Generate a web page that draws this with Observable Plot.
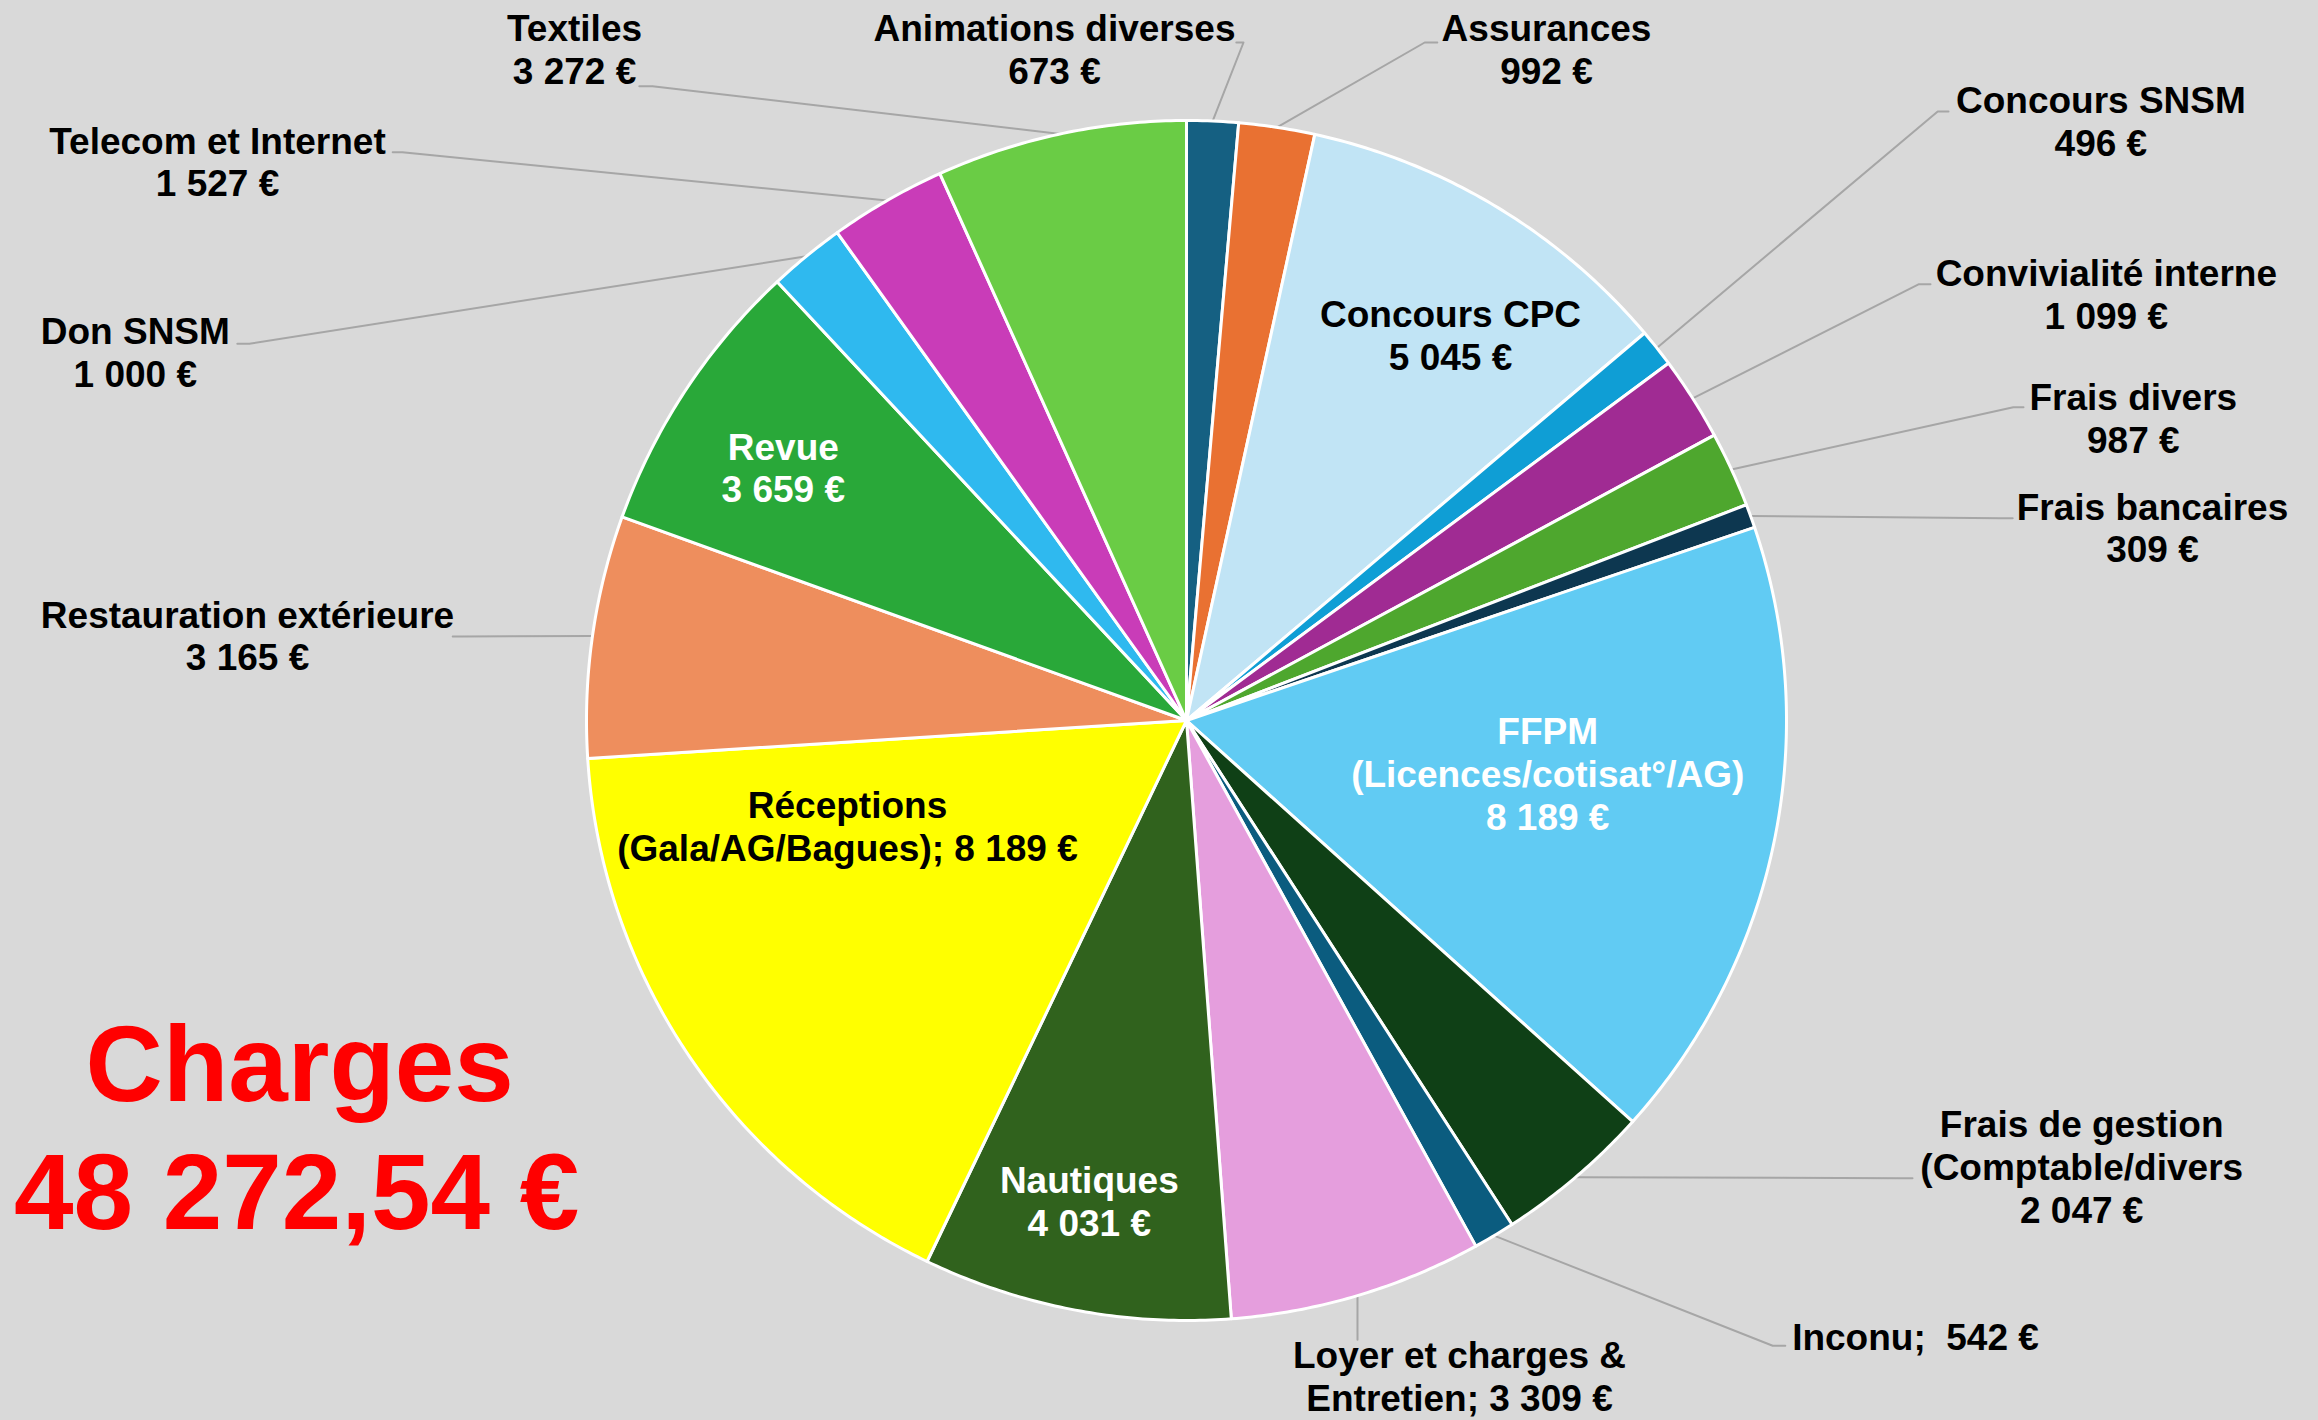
<!DOCTYPE html>
<html><head><meta charset="utf-8">
<script src="https://cdn.jsdelivr.net/npm/d3@7"></script>
<script src="https://cdn.jsdelivr.net/npm/@observablehq/plot@0.6"></script>
<style>
html,body{margin:0;padding:0;background:#d9d9d9;}
#chart{width:2318px;height:1420px;overflow:hidden;}
</style></head><body><div id="chart"></div>
<script>
// ---- data ----
const categories = ["Animations diverses","Assurances","Concours CPC","Concours SNSM","Convivialité interne","Frais divers","Frais bancaires","FFPM\n(Licences/cotisat°/AG)","Frais de gestion\n(Comptable/divers","Inconu;\u00a0","Loyer et charges &\nEntretien;","Nautiques","Réceptions\n(Gala/AG/Bagues);","Restauration extérieure","Revue","Don SNSM","Telecom et Internet","Textiles"];
const values = [673, 992, 5045, 496, 1099, 987, 309, 8189, 2047, 542, 3309, 4031, 8189, 3165, 3659, 1000, 1527, 3272];
const labelSep = ["\n","\n","\n","\n","\n","\n","\n","\n","\n"," "," ","\n"," ","\n","\n","\n","\n","\n"];
const totalTitle = "Charges";
const total = 48272.54;

// ---- styles ----
const colors = ["#156082","#e97132","#c1e4f5","#0f9ed5","#a02b93","#4ea72e","#0d3750","#61cbf3","#0f4016","#0b5c7f","#e59edd","#30621d","#ffff00","#ee8e5d","#29a839","#2fb9ef","#c93cb8","#6acc45"];
const labelColors = ["#000","#000","#000","#000","#000","#000","#000","#fff","#000","#000","#000","#fff","#000","#000","#fff","#000","#000","#000"];

// ---- layout (unit-circle coordinates, radius = 1) ----
const labelPos = [[-0.22,1.12],[0.60,1.12],[0.44,0.643],[1.524,1.0],[1.533,0.711],[1.578,0.505],[1.61,0.322],[0.602,-0.088],[1.492,-0.743],[1.215,-1.027],[0.455,-1.092],[-0.162,-0.8],[-0.565,-0.175],[-1.565,0.142],[-0.672,0.422],[-1.752,0.615],[-1.615,0.932],[-1.02,1.12]];
const leaderStart = [[0.083,1.13],[0.418,1.13],null,[1.27,1.015],[1.24,0.727],[1.395,0.522],[1.377,0.337],null,[1.21,-0.763],[0.998,-1.042],[0.285,-1.032],null,null,[-1.223,0.14],null,[-1.582,0.628],[-1.323,0.947],[-0.912,1.057]];
const leaderBend = [[0.095,1.13],[0.397,1.13],null,[1.252,1.015],[1.22,0.727],[1.378,0.522],[1.357,0.337],null,[1.19,-0.763],[0.977,-1.042],[0.285,-1.02],null,null,[-1.207,0.14],null,[-1.562,0.628],[-1.307,0.947],[-0.89,1.057]];
const titlePos = [[-1.478,-0.577],[-1.483,-0.79]];

const loc = d3.formatLocale({decimal: ",", thousands: " ", grouping: [3], currency: ["", " €"]});
const fmt = v => loc.format(",d")(v) + " €";
const fmtTotal = v => loc.format(",.2f")(v) + " €";

const arcs = d3.pie().sort(null).value(d => d)(values);
const slicePts = [];
arcs.forEach((p, i) => {
  const n = Math.max(2, Math.ceil((p.endAngle - p.startAngle) / (Math.PI / 360)));
  slicePts.push({k: i, x: 0, y: 0});
  for (let j = 0; j <= n; j++) {
    const a = p.startAngle + (p.endAngle - p.startAngle) * j / n;
    slicePts.push({k: i, x: Math.sin(a), y: Math.cos(a)});
  }
  slicePts.push({k: i, x: 0, y: 0});
});
const leaderPts = [];
arcs.forEach((p, i) => {
  if (!leaderStart[i]) return;
  const a = (p.startAngle + p.endAngle) / 2;
  leaderPts.push({k: i, x: leaderStart[i][0], y: leaderStart[i][1]});
  leaderPts.push({k: i, x: leaderBend[i][0], y: leaderBend[i][1]});
  leaderPts.push({k: i, x: Math.sin(a), y: Math.cos(a)});
});
const labelData = categories.map((c, i) => ({
  text: c + labelSep[i] + fmt(values[i]),
  x: labelPos[i][0], y: labelPos[i][1], color: labelColors[i]
}));
const titleData = [
  {text: totalTitle, x: titlePos[0][0], y: titlePos[0][1]},
  {text: fmtTotal(total), x: titlePos[1][0], y: titlePos[1][1]}
];

const font = "'Liberation Sans', Arial, sans-serif";
const chart = Plot.plot({
  width: 2318, height: 1420, margin: 0,
  x: {domain: [-1, 1], range: [586, 1786], axis: null},
  y: {domain: [-1, 1], range: [1320, 120], axis: null},
  color: {type: "identity"},
  style: {background: "#d9d9d9", fontFamily: font, overflow: "visible"},
  marks: [
    Plot.line(leaderPts, {x: "x", y: "y", z: "k", stroke: "#a6a6a6", strokeWidth: 2}),
    Plot.line(slicePts, {x: "x", y: "y", z: "k", fill: d => colors[d.k], stroke: "white", strokeWidth: 3, strokeLinejoin: "round"}),
    Plot.text(labelData, {x: "x", y: "y", text: "text", fill: "color", fontSize: 37, fontWeight: "bold", fontFamily: font, lineHeight: 1.16, textAnchor: "middle"}),
    Plot.text(titleData, {x: "x", y: "y", text: "text", fill: "#ff0000", fontSize: 107, fontWeight: "bold", fontFamily: font, textAnchor: "middle"})
  ]
});
document.getElementById("chart").appendChild(chart);
</script></body></html>
